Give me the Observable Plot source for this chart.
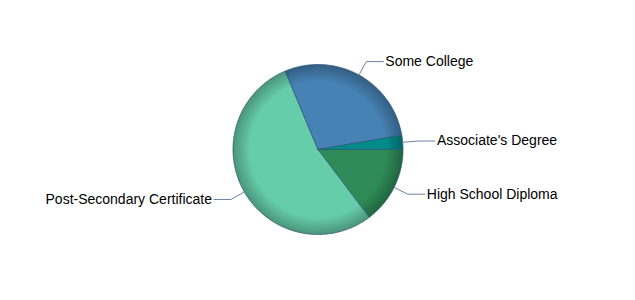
<!DOCTYPE html>
<html><head><meta charset="utf-8">
<script src="https://cdn.jsdelivr.net/npm/d3@7"></script>
<script src="https://cdn.jsdelivr.net/npm/@observablehq/plot@0.6"></script>
<style>body{margin:0;background:#fff} #chart{width:635px;height:300px}</style>
</head><body><div id="chart"></div>
<script>
const categories = ["High School Diploma", "Post-Secondary Certificate", "Some College", "Associate's Degree"];
const values = [14.7, 54.0, 28.6, 2.7];
const colors = ["#2E8B57", "#66CDAA", "#4682B4", "#008B8B"];

const W = 635, H = 300, R = 85, CX = 317.5, CY = 149;
const total = d3.sum(values);
let acc = 0;
const slices = categories.map((c, i) => {
  const a0 = acc / total * 2 * Math.PI; acc += values[i];
  const a1 = acc / total * 2 * Math.PI;
  return {c, i, a0, a1, mid: (a0 + a1) / 2};
});
// angles clockwise from 3 o'clock on screen; data y points up
const slicePts = slices.map(s => {
  const p = [{x: 0, y: 0}];
  const n = Math.max(2, Math.ceil((s.a1 - s.a0) / (Math.PI / 180)));
  for (let j = 0; j <= n; j++) {
    const a = s.a0 + (s.a1 - s.a0) * j / n;
    p.push({x: Math.cos(a), y: -Math.sin(a)});
  }
  p.push({x: 0, y: 0});
  return p;
});
const elbowR = 1.18, hLen = 0.2;
const conn = [], labels = [];
slices.forEach(s => {
  const right = Math.cos(s.mid) >= 0;
  const ex = Math.cos(s.mid) * elbowR, ey = -Math.sin(s.mid) * elbowR;
  const hx = ex + (right ? hLen : -hLen);
  conn.push({k: s.c, x: Math.cos(s.mid), y: -Math.sin(s.mid)});
  conn.push({k: s.c, x: ex, y: ey});
  conn.push({k: s.c, x: hx, y: ey});
  labels.push({text: s.c, x: hx, y: ey, anchor: right ? "start" : "end"});
});

const marks = slicePts.map((p, i) => Plot.line(p, {x: "x", y: "y", fill: `url(#g${i})`, stroke: "#2d5675", strokeWidth: 0.8, strokeOpacity: 0.9}));
marks.push(Plot.line(conn, {x: "x", y: "y", z: "k", stroke: "#6f82a3", strokeWidth: 1}));
marks.push(Plot.text(labels.filter(d => d.anchor === "start"), {x: "x", y: "y", text: "text", textAnchor: "start", dx: 2, fontSize: 14, fill: "#000"}));
marks.push(Plot.text(labels.filter(d => d.anchor === "end"), {x: "x", y: "y", text: "text", textAnchor: "end", dx: -2, fontSize: 14, fill: "#000"}));

const plot = Plot.plot({
  width: W, height: H,
  marginTop: 0, marginRight: 0, marginBottom: 0, marginLeft: 0,
  x: {domain: [-CX / R, (W - CX) / R], axis: null},
  y: {domain: [(CY - H) / R, CY / R], axis: null},
  style: {fontFamily: "'Liberation Sans', Arial, sans-serif", background: "#fff"},
  marks
});
const sx = plot.scale("x"), sy = plot.scale("y");
const gcx = sx.apply(0), gcy = sy.apply(0), gr = sx.apply(1) - sx.apply(0);
const svg = d3.select(plot);
const defs = svg.insert("defs", ":first-child");
colors.forEach((c, i) => {
  const g = defs.append("radialGradient").attr("id", `g${i}`).attr("gradientUnits", "userSpaceOnUse")
    .attr("cx", gcx).attr("cy", gcy).attr("r", gr);
  g.append("stop").attr("offset", 0).attr("stop-color", c);
  g.append("stop").attr("offset", 0.8).attr("stop-color", c);
  g.append("stop").attr("offset", 1).attr("stop-color", d3.color(c).darker(0.9).formatHex());
});
document.getElementById("chart").appendChild(plot);
</script>
</body></html>
